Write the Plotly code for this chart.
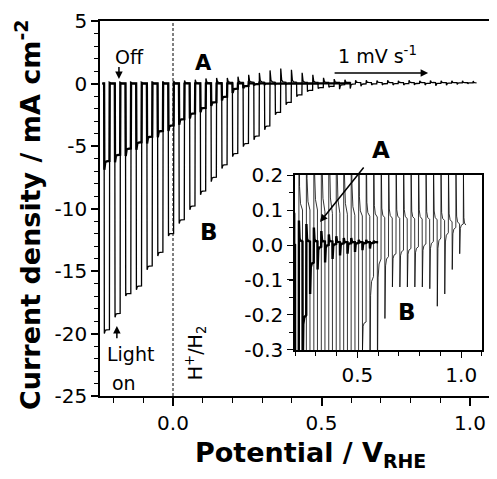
import plotly.graph_objects as go

# ---------------- data ----------------
# chopped-light scan, 1 mV/s; potentials in V vs RHE, currents in mA cm-2
scan_start = -0.238
scan_end_B = 1.022
scan_end_A = 0.600

light_on = [-0.232, -0.196, -0.160, -0.124, -0.088, -0.052, -0.016, 0.020, 0.056, 0.092,
            0.128, 0.164, 0.200, 0.236, 0.272, 0.308, 0.344, 0.380, 0.416, 0.452,
            0.488, 0.524, 0.560, 0.596, 0.632, 0.668, 0.704, 0.740, 0.776, 0.812,
            0.848, 0.884, 0.920, 0.956, 0.992]
light_off = [-0.214, -0.178, -0.142, -0.106, -0.070, -0.034, 0.002, 0.038, 0.074, 0.110,
             0.146, 0.182, 0.218, 0.254, 0.290, 0.326, 0.362, 0.398, 0.434, 0.470,
             0.506, 0.542, 0.578, 0.614, 0.650, 0.686, 0.722, 0.758, 0.794, 0.830,
             0.866, 0.902, 0.938, 0.974, 1.010]

# sample B
B_light_peak = [-20.0, -18.7, -17.0, -16.5, -14.9, -13.8, -12.2, -11.2, -10.1, -8.9,
                -7.85, -6.8, -5.85, -5.05, -4.5, -3.7, -2.5, -1.7, -1.05, -0.65,
                -0.40, -0.30, -0.45, -0.40, -0.21, -0.12, -0.12, -0.12, -0.12, -0.12,
                -0.125, -0.175, -0.14, -0.07, -0.025]
B_light_end = [-19.7, -18.4, -16.8, -16.2, -14.6, -13.5, -12.0, -10.9, -9.8, -8.6,
               -7.5, -6.5, -5.6, -4.8, -4.2, -3.4, -2.3, -1.5, -0.9, -0.55,
               -0.33, -0.22, -0.09, -0.04, -0.033, -0.025, -0.015, -0.01, -0.005, 0.003,
               0.01, 0.02, 0.035, 0.05, 0.06]
B_dark_peak = [0.1, 0.1, 0.1, 0.1, 0.15, 0.15, 0.2, 0.25, 0.3, 0.4,
               0.45, 0.45, 0.55, 0.7, 0.85, 1.05, 1.2, 1.1, 0.85, 0.7,
               0.45, 0.35, 0.3, 0.26, 0.25, 0.24, 0.25, 0.22, 0.25, 0.22,
               0.24, 0.22, 0.22, 0.21, 0.2]
B_dark_end = [0.0, 0.0, 0.0, 0.0, 0.0, 0.01, 0.02, 0.03, 0.04, 0.06,
              0.08, 0.09, 0.10, 0.10, 0.10, 0.095, 0.09, 0.09, 0.088, 0.085,
              0.083, 0.082, 0.08, 0.078, 0.077, 0.076, 0.075, 0.075, 0.074, 0.073,
              0.072, 0.07, 0.066, 0.06, 0.057]

# sample A (scan stops at 0.6 V)
A_light_peak = [-6.9, -6.3, -5.8, -5.3, -4.8, -4.3, -3.8, -3.3, -2.8, -2.3,
                -1.8, -1.35, -0.75, -0.38, -0.14, -0.07, -0.05, -0.04, -0.03, -0.025,
                -0.02, -0.015, -0.01]
A_light_end = [-6.2, -5.7, -5.2, -4.7, -4.25, -3.8, -3.35, -2.85, -2.4, -1.95,
               -1.5, -1.05, -0.42, -0.2, -0.05, -0.005, 0.0, 0.003, 0.005, 0.005,
               0.006, 0.006, 0.006]
A_dark_peak = [0.05, 0.05, 0.05, 0.05, 0.05, 0.05, 0.05, 0.06, 0.07, 0.08,
               0.08, 0.08, 0.07, 0.06, 0.05, 0.04, 0.03, 0.025, 0.02, 0.02,
               0.015, 0.015, 0.012]
A_dark_end = [0.0, 0.0, 0.0, 0.0, 0.0, 0.0, 0.0, 0.0, 0.0, 0.0,
              0.0, 0.0, 0.01, 0.01, 0.01, 0.01, 0.01, 0.008, 0.008, 0.008,
              0.008, 0.008, 0.008]

main_xticks = [0.0, 0.5, 1.0]
main_xticktext = ["0.0", "0.5", "1.0"]
main_yticks = [5, 0, -5, -10, -15, -20, -25]
main_yticktext = ["5", "0", "-5", "-10", "-15", "-20", "-25"]
inset_xticks = [0.5, 1.0]
inset_xticktext = ["0.5", "1.0"]
inset_yticks = [0.2, 0.1, 0.0, -0.1, -0.2, -0.3]
inset_yticktext = ["0.2", "0.1", "0.0", "-0.1", "-0.2", "-0.3"]

# ---------------- drawing helpers (transient shape = style) ----------------
SHAPE_FRAC = [0.0, 0.06, 0.18, 0.45, 1.0]
SHAPE_LEFT = [1.0, 0.4, 0.15, 0.04, 0.0]
EPS = 0.0008


def chopped_trace(t0, t_end, dark0, n, lpk, lend, dpk, dend):
    xs, ys = [t0], [dark0]

    def seg(a, b, peak, end):
        for f, w in zip(SHAPE_FRAC, SHAPE_LEFT):
            xs.append(a + f * (b - a))
            ys.append(end + w * (peak - end))

    xs.append(light_on[0])
    ys.append(dark0)
    for i in range(n):
        seg(light_on[i] + EPS, light_off[i], lpk[i], lend[i])
        nxt = light_on[i + 1] if i + 1 < n else t_end
        seg(light_off[i] + EPS, nxt, dpk[i], dend[i])
    return xs, ys


bx, by = chopped_trace(scan_start, scan_end_B, 0.0, len(B_light_peak),
                       B_light_peak, B_light_end, B_dark_peak, B_dark_end)
ax_, ay_ = chopped_trace(scan_start, scan_end_A, 0.0, len(A_light_peak),
                         A_light_peak, A_light_end, A_dark_peak, A_dark_end)

fig = go.Figure()
fig.add_trace(go.Scatter(x=bx, y=by, mode="lines", line=dict(color="black", width=1.3),
                         xaxis="x", yaxis="y", hoverinfo="skip"))
fig.add_trace(go.Scatter(x=ax_, y=ay_, mode="lines", line=dict(color="black", width=2.3),
                         xaxis="x", yaxis="y", hoverinfo="skip"))
fig.add_trace(go.Scatter(x=bx, y=by, mode="lines", line=dict(color="black", width=0.8),
                         xaxis="x2", yaxis="y2", hoverinfo="skip"))
fig.add_trace(go.Scatter(x=ax_, y=ay_, mode="lines", line=dict(color="black", width=2.4),
                         xaxis="x2", yaxis="y2", hoverinfo="skip"))

FONT = "DejaVu Sans"
# the page body has an 8 px margin, so the figure is 8 px smaller and margins shifted
fig.update_layout(
    width=489, height=471,
    margin=dict(l=92, r=0, t=13, b=83, autoexpand=False),
    showlegend=False,
    plot_bgcolor="white", paper_bgcolor="white",
    font=dict(family=FONT, size=20, color="black"),
    xaxis=dict(range=[-0.2458, 1.0909], domain=[0, 1], showline=True, linecolor="black",
               linewidth=1.6, mirror=True, ticks="outside", ticklen=8, tickwidth=1.6,
               tickcolor="black", tickmode="array", tickvals=main_xticks,
               ticktext=main_xticktext, showgrid=False, zeroline=False, automargin=False,
               minor=dict(tickmode="linear", tick0=0, dtick=0.1, ticks="outside",
                          ticklen=5, tickwidth=1.3, tickcolor="black", showgrid=False),
               tickfont=dict(size=20)),
    yaxis=dict(range=[-25, 5], domain=[0, 1], showline=True, linecolor="black",
               linewidth=1.6, mirror=False, ticks="outside", ticklen=7, tickwidth=1.6,
               tickcolor="black", tickmode="array", tickvals=main_yticks,
               ticktext=main_yticktext, showgrid=False, zeroline=False, automargin=False,
               minor=dict(tickmode="linear", tick0=0, dtick=1, ticks="outside",
                          ticklen=4, tickwidth=1.3, tickcolor="black", showgrid=False),
               tickfont=dict(size=20)),
    xaxis2=dict(range=[0.2, 1.1], domain=[0.4912, 0.9622], anchor="y2", showline=True,
                linecolor="black", linewidth=1.5, mirror=True, ticks="outside", ticklen=6,
                tickwidth=1.2, tickcolor="black", tickmode="array", tickvals=inset_xticks,
                ticktext=inset_xticktext, showgrid=False, zeroline=False, automargin=False,
                minor=dict(tickmode="linear", tick0=0, dtick=0.1, ticks="outside",
                           ticklen=4, tickwidth=1.0, tickcolor="black", showgrid=False),
                tickfont=dict(size=20)),
    yaxis2=dict(range=[-0.3, 0.2], domain=[0.1227, 0.5893], anchor="x2", showline=True,
                linecolor="black", linewidth=1.5, mirror=True, ticks="outside", ticklen=6,
                tickwidth=1.2, tickcolor="black", tickmode="array", tickvals=inset_yticks,
                ticktext=inset_yticktext, showgrid=False, zeroline=False, automargin=False,
                minor=dict(tickmode="linear", tick0=0, dtick=0.05, ticks="outside",
                           ticklen=4, tickwidth=1.0, tickcolor="black", showgrid=False),
                tickfont=dict(size=20)),
)

# dashed H+/H2 line
fig.add_shape(type="line", xref="x", yref="y", x0=0, x1=0, y0=-25, y1=5,
              line=dict(color="black", width=1, dash="3px,2px"))

ann = []
# axis titles
ann.append(dict(xref="paper", yref="paper", x=-0.181, y=0.483, showarrow=False,
                xanchor="center", yanchor="middle", textangle=-90,
                text="<b>Current density / mA cm<sup>-2</sup></b>",
                font=dict(size=27, family=FONT)))
ann.append(dict(xref="paper", yref="paper", x=0.529, y=-0.157, showarrow=False,
                xanchor="center", yanchor="middle",
                text="<b>Potential / V<sub>RHE</sub></b>", font=dict(size=27, family=FONT)))
# labels in main axes
ann.append(dict(xref="x", yref="y", x=-0.148, y=2.12, text="Off", showarrow=False,
                font=dict(size=19)))
ann.append(dict(xref="x", yref="y", x=-0.182, y=0.36, ax=-0.182, ay=1.45, axref="x",
                ayref="y", text="", showarrow=True, arrowhead=2, arrowsize=1,
                arrowwidth=1.5, arrowcolor="black"))
ann.append(dict(xref="x", yref="y", x=0.101, y=1.64, text="<b>A</b>", showarrow=False,
                font=dict(size=21)))
ann.append(dict(xref="x", yref="y", x=0.69, y=2.28, text="1 mV s<sup>-1</sup>",
                showarrow=False, font=dict(size=19)))
ann.append(dict(xref="x", yref="y", x=0.859, y=0.84, ax=0.539, ay=0.84, axref="x",
                ayref="y", text="", showarrow=True, arrowhead=2, arrowsize=1,
                arrowwidth=1.5, arrowcolor="black"))
ann.append(dict(xref="x", yref="y", x=0.121, y=-11.88, text="<b>B</b>", showarrow=False,
                font=dict(size=23)))
ann.append(dict(xref="x", yref="y", x=-0.229, y=-21.64, xanchor="left", text="Light",
                showarrow=False, font=dict(size=19)))
ann.append(dict(xref="x", yref="y", x=-0.212, y=-23.96, xanchor="left", text="on",
                showarrow=False, font=dict(size=19)))
ann.append(dict(xref="x", yref="y", x=-0.189, y=-19.4, ax=-0.189, ay=-20.5, axref="x",
                ayref="y", text="", showarrow=True, arrowhead=2, arrowsize=1,
                arrowwidth=1.5, arrowcolor="black"))
ann.append(dict(xref="x", yref="y", x=0.074, y=-21.5, textangle=-90,
                text="H<sup>+</sup>/H<sub>2</sub>", showarrow=False, font=dict(size=19)))
# inset labels
ann.append(dict(xref="x", yref="y", x=0.70, y=-5.32, text="<b>A</b>", showarrow=False,
                font=dict(size=23)))
ann.append(dict(xref="x", yref="y", x=0.495, y=-11.08, ax=0.646, ay=-6.6, axref="x",
                ayref="y", text="", showarrow=True, arrowhead=2, arrowsize=1,
                arrowwidth=1.5, arrowcolor="black"))
ann.append(dict(xref="x", yref="y", x=0.788, y=-18.28, text="<b>B</b>", showarrow=False,
                font=dict(size=23)))
fig.update_layout(annotations=ann)

fig.write_html("out.html")
